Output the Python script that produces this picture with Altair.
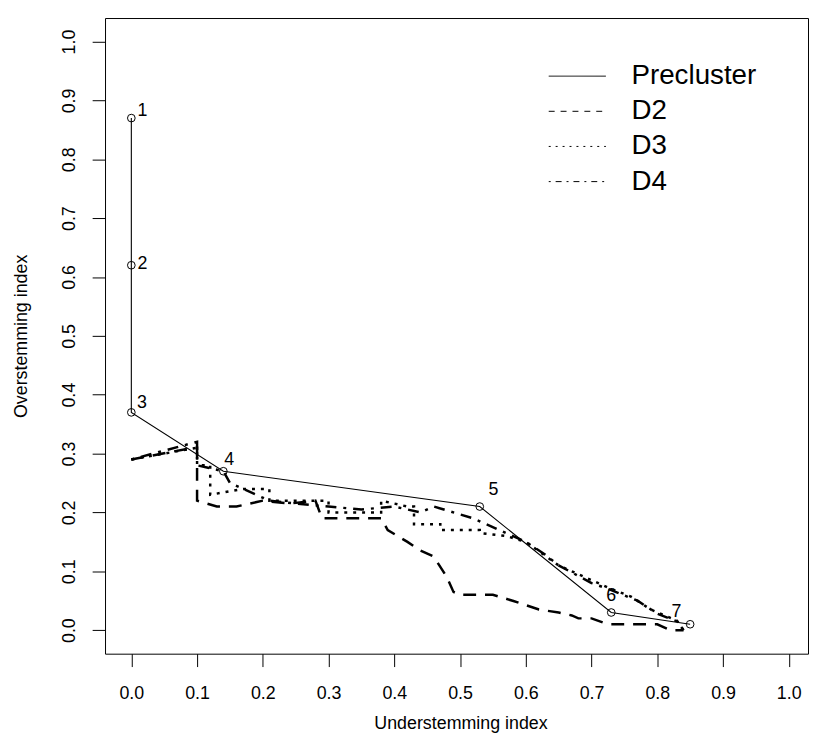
import altair as alt
import pandas as pd

# ---------------- data ----------------
series_order = ["Precluster", "D2", "D3", "D4"]

pre_x = [0.0, 0.0, 0.0, 0.14, 0.53, 0.73, 0.85]
pre_y = [0.87, 0.62, 0.37, 0.27, 0.21, 0.03, 0.01]
pre_lab = ["1", "2", "3", "4", "5", "6", "7"]
lab_x = [0.017, 0.017, 0.016, 0.149, 0.551, 0.730, 0.829]
lab_y = [0.882, 0.622, 0.386, 0.289, 0.238, 0.058, 0.030]

d2_x = [0.0, 0.095, 0.10, 0.10, 0.13, 0.16, 0.20, 0.24, 0.28, 0.29, 0.32, 0.38, 0.39,
        0.42, 0.44, 0.46, 0.48, 0.49, 0.50, 0.55, 0.58, 0.62, 0.65, 0.67, 0.68, 0.70,
        0.72, 0.73, 0.80, 0.82, 0.84]
d2_y = [0.29, 0.31, 0.31, 0.22, 0.21, 0.21, 0.22, 0.215, 0.22, 0.19, 0.19, 0.19, 0.17,
        0.15, 0.135, 0.125, 0.09, 0.065, 0.06, 0.06, 0.05, 0.035, 0.03, 0.025, 0.02, 0.02,
        0.012, 0.01, 0.01, 0.0, 0.0]

d3_x = [0.0, 0.10, 0.10, 0.12, 0.12, 0.17, 0.21, 0.21, 0.25, 0.30, 0.30, 0.34, 0.37,
        0.38, 0.38, 0.42, 0.43, 0.43, 0.47, 0.47, 0.53, 0.53, 0.57, 0.60, 0.65, 0.70,
        0.73, 0.76, 0.79, 0.83, 0.84]
d3_y = [0.29, 0.31, 0.28, 0.28, 0.23, 0.24, 0.24, 0.22, 0.22, 0.22, 0.20, 0.20, 0.20,
        0.20, 0.22, 0.21, 0.21, 0.18, 0.18, 0.17, 0.17, 0.165, 0.16, 0.15, 0.11, 0.085,
        0.07, 0.057, 0.035, 0.016, 0.0]

d4_x = [0.0, 0.10, 0.10, 0.14, 0.15, 0.17, 0.21, 0.25, 0.30, 0.35, 0.40, 0.44, 0.46,
        0.52, 0.56, 0.60, 0.63, 0.65, 0.70, 0.73, 0.77, 0.80, 0.83, 0.84]
d4_y = [0.29, 0.32, 0.28, 0.27, 0.25, 0.24, 0.22, 0.215, 0.21, 0.205, 0.21, 0.20, 0.21,
        0.19, 0.17, 0.15, 0.128, 0.11, 0.08, 0.068, 0.05, 0.028, 0.015, 0.0]

x_ticks = [0.0, 0.1, 0.2, 0.3, 0.4, 0.5, 0.6, 0.7, 0.8, 0.9, 1.0]
y_ticks = [0.0, 0.1, 0.2, 0.3, 0.4, 0.5, 0.6, 0.7, 0.8, 0.9, 1.0]

# ---------------- tables ----------------
pre_df = pd.DataFrame({"x": pre_x, "y": pre_y, "order": list(range(len(pre_x))),
                       "series": "Precluster"})
lab_df = pd.DataFrame({"x": lab_x, "y": lab_y, "label": pre_lab})
rows = []
for name, xs_, ys_ in [("D2", d2_x, d2_y), ("D3", d3_x, d3_y), ("D4", d4_x, d4_y)]:
    for i, (a, b) in enumerate(zip(xs_, ys_)):
        rows.append({"series": name, "x": a, "y": b, "order": i})
d_df = pd.DataFrame(rows)
# one point per series -> draws nothing, only feeds the legend
leg_df = pd.concat([pre_df.iloc[[0]], d_df.groupby("series").head(1)], ignore_index=True)

FONT = "Liberation Sans"
xs = alt.Scale(domain=[-0.04, 1.0293], nice=False, zero=False)
ys = alt.Scale(domain=[-0.04, 1.04], nice=False, zero=False)

x_axis = alt.Axis(values=x_ticks, format=".1f", grid=False, domain=False,
                  ticks=True, tickSize=13, tickColor="black", tickWidth=1,
                  labelFont=FONT, labelFontSize=18, labelColor="black",
                  labelBaseline="alphabetic", labelPadding=32, labelFlush=False,
                  labelOverlap=False, title="Understemming index", titleFont=FONT,
                  titleFontSize=18, titleFontWeight="normal", titleColor="black",
                  titleX=359, titleY=76, titleBaseline="alphabetic", titleAlign="center")
y_axis = alt.Axis(values=y_ticks, format=".1f", grid=False, domain=False,
                  ticks=True, tickSize=13, tickColor="black", tickWidth=1,
                  labelFont=FONT, labelFontSize=18, labelColor="black", labelAngle=270,
                  labelAlign="center", labelBaseline="alphabetic", labelPadding=18,
                  labelFlush=False, labelOverlap=False, title="Overstemming index",
                  titleFont=FONT, titleFontSize=18, titleFontWeight="normal",
                  titleColor="black", titleAngle=270, titleX=-79, titleY=321,
                  titleBaseline="alphabetic", titleAlign="center")

d_lines = alt.Chart(d_df).mark_line(color="black", strokeWidth=2.5).encode(
    x=alt.X("x:Q", scale=xs, axis=x_axis),
    y=alt.Y("y:Q", scale=ys, axis=y_axis),
    detail="series:N",
    order="order:Q",
    strokeDash=alt.StrokeDash("series:N", legend=None,
                              scale=alt.Scale(domain=["D2", "D3", "D4"],
                                              range=[[13, 9], [3, 6], [3, 7, 11, 7]])),
)

pre_line = alt.Chart(pre_df).mark_line(color="black", strokeWidth=1.1).encode(
    x=alt.X("x:Q", scale=xs),
    y=alt.Y("y:Q", scale=ys),
    order="order:Q",
)

pre_pts = alt.Chart(pre_df).mark_point(shape="circle", filled=False, color="black",
                                       size=60, strokeWidth=1, opacity=1).encode(
    x=alt.X("x:Q", scale=xs),
    y=alt.Y("y:Q", scale=ys),
)

labels = alt.Chart(lab_df).mark_text(font=FONT, fontSize=18, color="black",
                                     align="center", baseline="middle").encode(
    x=alt.X("x:Q", scale=xs),
    y=alt.Y("y:Q", scale=ys),
    text="label:N",
)

legend_layer = alt.Chart(leg_df).mark_line(color="black", strokeWidth=1).encode(
    x=alt.X("x:Q", scale=xs),
    y=alt.Y("y:Q", scale=ys),
    strokeDash=alt.StrokeDash(
        "series:N",
        scale=alt.Scale(domain=series_order, range=[[1, 0], [6, 6], [2, 5], [2, 5, 6, 5]]),
        legend=alt.Legend(orient="none", legendX=459, legendY=40.7, title=None,
                          labelFont=FONT, labelFontSize=28, labelColor="black",
                          symbolType="M-1.65,0H1.65", symbolSize=1225, symbolStrokeWidth=1,
                          symbolStrokeColor="black", labelOffset=36.7, rowPadding=3.5,
                          padding=0, symbolOffset=0),
    ),
)

chart = (
    alt.layer(d_lines, pre_line, pre_pts, labels, legend_layer)
    .resolve_scale(strokeDash="independent")
    .properties(width=710, height=642,
                autosize=alt.AutoSizeParams(type="none"),
                padding={"left": 98, "top": 6.5, "right": 1, "bottom": 79.5},
                background="white")
    .configure_view(stroke="black", strokeWidth=1)
)

chart.save("out.html", embed_options={"renderer": "svg", "actions": False})
